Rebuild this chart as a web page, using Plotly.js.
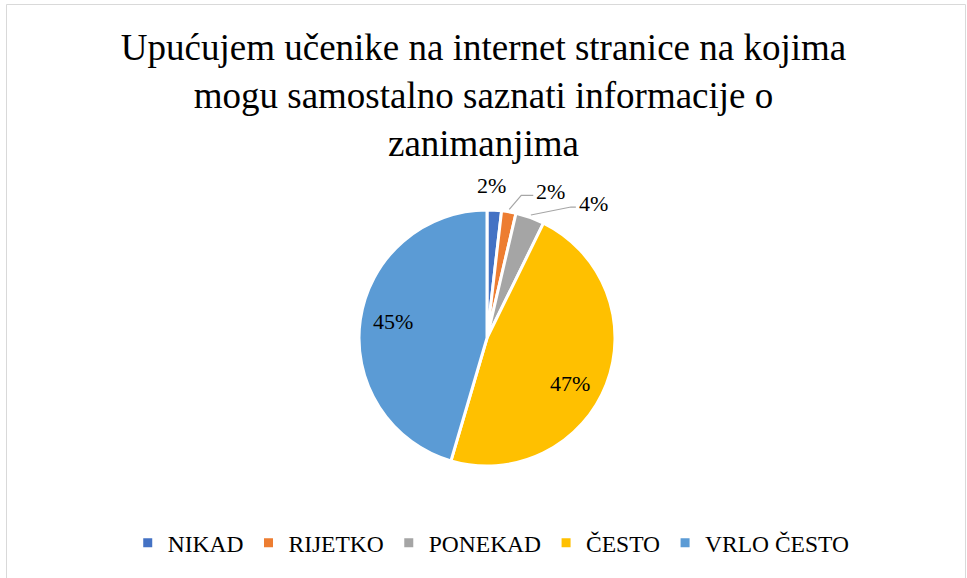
<!DOCTYPE html>
<html>
<head>
<meta charset="utf-8">
<script src="https://cdn.plot.ly/plotly-3.0.1.min.js"></script>
<style>
  html, body { margin: 0; padding: 0; background: #fff; }
  #chart { width: 967px; height: 578px; }
</style>
</head>
<body>
<div id="chart"></div>
<script>
// ---- data ----
const categories = ['NIKAD', 'RIJETKO', 'PONEKAD', 'ČESTO', 'VRLO ČESTO'];
const counts = [1, 1, 2, 26, 25];
const colors = ['#4472C4', '#ED7D31', '#A5A5A5', '#FFC000', '#5B9BD5'];
const titleText = 'Upućujem učenike na internet stranice na kojima<br>mogu samostalno saznati informacije o<br>zanimanjima';

// ---- geometry (style) ----
const W = 967, H = 578;
const cx = 487, cy = 338, R = 128;
const px = x => x / W;
const py = y => 1 - y / H;
const SERIF = 'Liberation Serif';

const total = counts.reduce((a, b) => a + b, 0);
let cum = 0;
const mids = counts.map(v => { const m = (cum + v / 2) / total * 2 * Math.PI; cum += v; return m; });
const pt = (th, r) => [cx + r * Math.sin(th), cy - r * Math.cos(th)];
const pctText = v => Math.round(v / total * 100) + '%';

// label placement style per slice
const labelStyle = [
  { mode: 'plain', r: 1.19, dx: -4, dy: 0 },
  { mode: 'leader', elbow: [12, -14], end: [24, -14] },
  { mode: 'leader', elbow: [40, -8], end: [45, -8] },
  { mode: 'plain', r: 0.74, dx: -5, dy: 11 },
  { mode: 'plain', r: 0.75, dx: 1, dy: -3 }
];

const annotations = [];
const shapes = [];
counts.forEach((v, i) => {
  const s = labelStyle[i];
  const f = { family: SERIF, size: 22, color: '#000000' };
  if (s.mode === 'plain') {
    const [x, y] = pt(mids[i], R * s.r);
    annotations.push({ xref: 'paper', yref: 'paper', x: px(x + s.dx), y: py(y + s.dy),
      text: pctText(v), showarrow: false, xanchor: 'center', yanchor: 'middle', font: f });
  } else {
    const [x0, y0] = pt(mids[i], R * 1.02);
    const x1 = x0 + s.elbow[0], y1 = y0 + s.elbow[1];
    const x2 = x0 + s.end[0], y2 = y0 + s.end[1];
    shapes.push({ type: 'path', xref: 'paper', yref: 'paper',
      path: `M ${px(x0)} ${py(y0)} L ${px(x1)} ${py(y1)} L ${px(x2)} ${py(y2)}`,
      line: { color: '#A6A6A6', width: 1.2 } });
    annotations.push({ xref: 'paper', yref: 'paper', x: px(x2 + 1), y: py(y2 - 4),
      text: pctText(v), showarrow: false, xanchor: 'left', yanchor: 'middle', font: f });
  }
});

// chart frame
shapes.push({ type: 'rect', xref: 'paper', yref: 'paper',
  x0: px(6.5), x1: px(965.5), y0: py(580), y1: py(4.5),
  line: { color: '#D9D9D9', width: 1 }, fillcolor: 'rgba(0,0,0,0)', layer: 'below' });

const trace = {
  type: 'pie',
  labels: categories,
  values: counts,
  sort: false,
  direction: 'clockwise',
  rotation: 0,
  textinfo: 'none',
  hoverinfo: 'label+percent',
  marker: { colors: colors, line: { color: '#ffffff', width: 3 } },
  domain: { x: [px(cx - R), px(cx + R)], y: [py(cy + R), py(cy - R)] }
};

const layout = {
  width: W, height: H,
  margin: { l: 0, r: 0, t: 0, b: 0 },
  paper_bgcolor: '#fff',
  font: { family: SERIF, color: '#000000' },
  title: {
    text: titleText,
    font: { family: SERIF, size: 37, color: '#000000' },
    x: 0.5, xanchor: 'center', y: 1 - 60 / H, yanchor: 'middle', yref: 'container'
  },
  showlegend: true,
  legend: {
    orientation: 'h', x: 0.508, xanchor: 'center', y: 1 - 543 / H, yanchor: 'middle',
    font: { family: SERIF, size: 23.5, color: '#000000' },
    traceorder: 'normal'
  },
  annotations: annotations,
  shapes: shapes
};

Plotly.newPlot('chart', [trace], layout, { displayModeBar: false });
</script>
</body>
</html>
